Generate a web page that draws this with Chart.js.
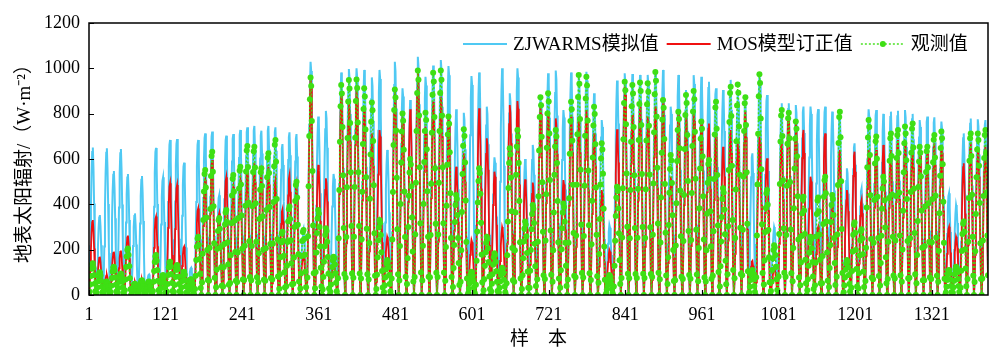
<!DOCTYPE html>
<html><head><meta charset="utf-8">
<script src="https://cdn.jsdelivr.net/npm/chart.js@4.4.1/dist/chart.umd.min.js"></script>
<style>html,body{margin:0;padding:0;background:#fff;}#wrap{width:1000px;height:363px;}</style>
</head><body><div id="wrap"><canvas id="c" width="1000" height="363"></canvas></div>
<script>
// samples recorded per day (daylight hours)
const dayLen = [
11,11,11,11,11,11,11,11,11,11, 11,11,11,11,11,11,11,11,11,11,
11,11,11,11,11,11,11,11,11,11, 11,
12,12,12,12,12,12,12,12,12,12, 12,12,12,12,12,12,12,12,12,12,
12,12,12,12,12,12,12,12,12,12, 12,12,12,12,12,12,12,12,12,12,
12,12,12,12,12,12,12,12,12,12, 12,
12,11,11,12,11, 12,11,11,12,11, 12,11,11,12,11, 12,11,11,12,11,
12,11,11,12,11, 12,11,11,12,11, 12,11,11,12,11, 12,11,11,12,11];
// daily peak values (W·m-2)
const zjwarmsPeak = [
651,353,647,547,644,534,360,525,90,649, 519,684,688,584,120,684,713,721,440,703,
710,728,740,746,725,746,740,666,718,710, 294,1029,787,812,534,982,997,1000,993,960,
993,640,1029,912,860,1051,963,1012,1037,1010, 819,804,966,982,831,607,1000,890,1000,600,
662,875,978,990,816,982,975,985,890,772, 309,946,978,975,971,971,990,993,831,971,
904,970,963,941,912,904,949,890,875,625, 978,882,300,846,846,838,831,831,820,831,
809,809,559,669,470,819,816,799,809,813, 816,799,772,787,784,765,449,397,713,779,
775,772];
const mosPeak = [
331,169,88,191,196,262,59,69,50,346, 60,493,485,213,60,382,507,596,360,519,
478,507,544,581,544,566,507,378,529,493, 184,963,574,515,154,890,846,904,831,713,
728,257,904,787,819,985,743,853,875,787, 566,625,243,824,691,544,300,838,856,510,
496,831,809,779,507,787,787,816,713,463, 199,731,919,794,831,787,831,846,522,816,
794,800,765,757,699,654,728,669,809,150, 699,603,120,684,809,757,728,522,300,713,
419,640,463,632,420,640,640,662,640,684, 684,654,640,625,669,654,301,257,581,669,
654,654];
const obsPeak = [
140,100,60,125,95,205,50,65,60,176, 88,147,132,103,70,257,551,632,340,375,
529,566,657,654,559,625,684,279,390,500, 287,960,375,294,169,926,949,951,912,849,
331,154,907,801,600,990,804,981,990,787, 441,731,103,559,257,184,120,647,728,324,
397,872,890,728,404,853,971,963,831,669, 88,478,941,926,937,934,984,860,618,809,
882,900,765,596,853,471,919,929,872,110, 974,463,220,816,804,765,434,257,430,522,
441,809,154,320,290,772,699,522,713,728, 743,757,654,654,706,721,110,125,324,713,
713,728];
// typical within-day shape (fraction of the daily peak)
const profile11 = [0,0.10,0.33,0.60,0.83,0.97,1.00,0.86,0.62,0.36,0.12];
const profile12 = [0,0.08,0.27,0.50,0.73,0.90,1.00,0.96,0.80,0.57,0.32,0.10];
const xTickValues = [1,121,241,361,481,601,721,841,961,1081,1201,1321];
const yTickValues = [0,200,400,600,800,1000,1200];
const seriesNames = ['ZJWARMS模拟值','MOS模型订正值','观测值'];
const yTitle = '地表太阳辐射/（W·m⁻²）';
const xTitle = '样    本';

const COL_B = '#4FC9F3', COL_R = '#F01010', COL_G = '#3EDF14';
const SERIF = "'Liberation Serif','Times New Roman','Noto Sans CJK SC',serif";

const zjData = [], mosData = [], obsData = [];
let n = 0;
dayLen.forEach((len, d) => {
  const prof = len === 11 ? profile11 : profile12;
  for (let h = 0; h < len; h++) {
    n++;
    zjData.push({x: n, y: Math.round(zjwarmsPeak[d] * prof[h])});
    mosData.push({x: n, y: Math.round(mosPeak[d] * prof[h])});
    obsData.push({x: n, y: Math.round(obsPeak[d] * prof[h])});
  }
});
const xMax = n;

const frame = {
  id: 'frame',
  afterDatasetsDraw(chart) {
    const {ctx, chartArea: a, scales} = chart;
    ctx.save();
    ctx.strokeStyle = '#000'; ctx.lineWidth = 1.5;
    ctx.strokeRect(a.left, a.top, a.right - a.left, a.bottom - a.top);
    ctx.lineWidth = 1.2;
    ctx.beginPath();
    xTickValues.forEach(v => { const px = Math.round(scales.x.getPixelForValue(v)) + 0.5; ctx.moveTo(px, a.bottom); ctx.lineTo(px, a.bottom - 5); });
    yTickValues.forEach(v => { const py = Math.round(scales.y.getPixelForValue(v)) + 0.5; ctx.moveTo(a.left, py); ctx.lineTo(a.left + 5, py); });
    ctx.stroke();
    // legend inside the plot, top right
    const ds = chart.data.datasets;
    const y = a.top + 21;
    let x = a.left + 374;
    ctx.font = '19px ' + SERIF;
    ctx.textBaseline = 'middle';
    ctx.textAlign = 'left';
    ds.forEach((d, i) => {
      ctx.save();
      ctx.strokeStyle = d.borderColor;
      ctx.lineWidth = i === 2 ? 1.4 : 2;
      if (i === 2) ctx.setLineDash([2, 2]);
      ctx.beginPath(); ctx.moveTo(x, y); ctx.lineTo(x + 44, y); ctx.stroke();
      if (i === 2) { ctx.fillStyle = d.borderColor; ctx.beginPath(); ctx.arc(x + 22, y, 3, 0, Math.PI * 2); ctx.fill(); }
      ctx.restore();
      x += 50;
      ctx.fillStyle = '#000';
      ctx.fillText(d.label, x, y + 1);
      x += ctx.measureText(d.label).width + 8;
    });
    ctx.restore();
  }
};

new Chart(document.getElementById('c'), {
  type: 'line',
  data: {
    datasets: [
      {label: seriesNames[0], data: zjData, borderColor: COL_B, borderWidth: 2, pointRadius: 0, order: 3},
      {label: seriesNames[1], data: mosData, borderColor: COL_R, borderWidth: 1.8, pointRadius: 0, order: 2},
      {label: seriesNames[2], data: obsData, borderColor: COL_G, borderWidth: 1.4, borderDash: [2, 2],
       pointRadius: 3, pointBackgroundColor: COL_G, pointBorderWidth: 0, order: 1}
    ]
  },
  options: {
    responsive: false, animation: false, devicePixelRatio: 1,
    layout: {padding: {top: 23, right: 12, left: 0, bottom: 0}},
    plugins: {
      tooltip: {enabled: false},
      legend: {display: false}
    },
    scales: {
      x: {
        type: 'linear', min: 1, max: xMax,
        afterBuildTicks: (s) => { s.ticks = xTickValues.map(v => ({value: v})); },
        afterFit: (s) => { s.height = 68; },
        grid: {display: false, drawTicks: false},
        border: {display: false},
        ticks: {color: '#000', font: {family: SERIF, size: 18}, padding: 9, maxRotation: 0, autoSkip: false,
                callback: (v) => String(v)},
        title: {display: true, text: xTitle, color: '#000', font: {family: SERIF, size: 19}, padding: {top: 0, bottom: 12}}
      },
      y: {
        min: 0, max: 1200,
        afterBuildTicks: (s) => { s.ticks = yTickValues.map(v => ({value: v})); },
        afterFit: (s) => { s.width = 89; },
        grid: {display: false, drawTicks: false},
        border: {display: false},
        ticks: {color: '#000', font: {family: SERIF, size: 18}, padding: 9, callback: (v) => String(v)},
        title: {display: true, text: yTitle, color: '#000', font: {family: SERIF, size: 19}, padding: {top: 14, bottom: 0}}
      }
    }
  },
  plugins: [frame]
});
</script></body></html>
